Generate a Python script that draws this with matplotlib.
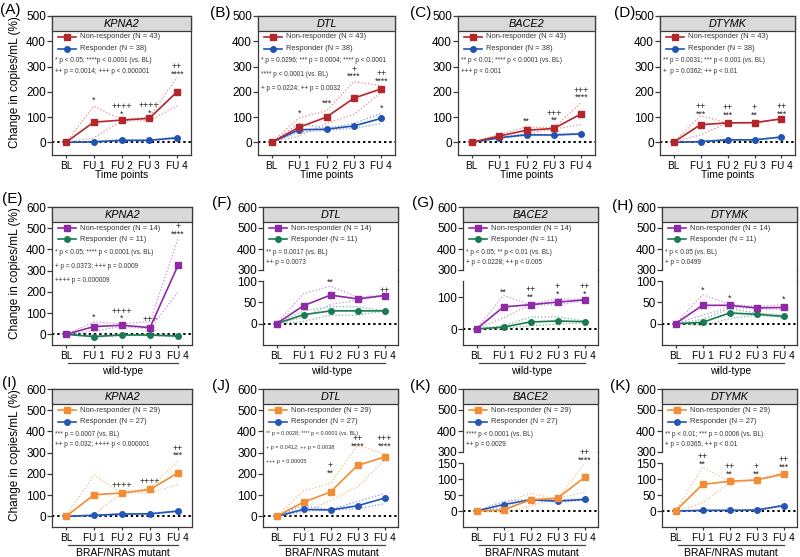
import matplotlib.pyplot as plt
from matplotlib.lines import Line2D
from matplotlib.patches import Rectangle

plt.rcParams['font.family'] = ['Liberation Sans', 'DejaVu Sans']

W, H = 800, 557
fig = plt.figure(figsize=(W / 100, H / 100), dpi=100)

timepoints = ['BL', 'FU 1', 'FU 2', 'FU 3', 'FU 4']
genes = ['KPNA2', 'DTL', 'BACE2', 'DTYMK']
x = list(range(len(timepoints)))

# ---- row 1: all patients (A-D) ----
nonresp_mean_r1 = [[0, 80, 88, 95, 200], [0, 60, 100, 175, 212], [0, 25, 48, 55, 113], [0, 70, 77, 78, 93]]
nonresp_hi_r1 = [[0, 143, 90, 100, 258], [0, 97, 125, 240, 225], [0, 30, 62, 57, 158], [0, 105, 77, 78, 93]]
nonresp_lo_r1 = [[0, 18, 85, 85, 145], [0, 25, 75, 110, 198], [0, 20, 35, 53, 70], [0, 30, 77, 78, 93]]
resp_mean_r1 = [[0, 2, 8, 8, 18], [0, 50, 52, 65, 95], [0, 18, 30, 29, 34], [0, 3, 10, 10, 21]]
resp_hi_r1 = [[0, 4, 10, 10, 21], [0, 75, 55, 75, 115], [0, 20, 32, 31, 36], [0, 4, 11, 11, 22]]
resp_lo_r1 = [[0, 1, 6, 6, 15], [0, 40, 48, 55, 75], [0, 16, 28, 27, 32], [0, 2, 9, 9, 20]]

# ---- row 2: wild-type (E-H) ----
nonresp_mean_r2 = [[0, 37, 43, 32, 325], [0, 42, 67, 58, 66], [0, 69, 76, 84, 91], [0, 43, 43, 37, 38]]
nonresp_hi_r2 = [[0, 58, 50, 60, 450], [0, 70, 88, 62, 66], [0, 105, 76, 95, 92], [0, 68, 45, 40, 45]]
nonresp_lo_r2 = [[0, 15, 38, 25, 200], [0, 15, 45, 55, 66], [0, 35, 76, 75, 90], [0, 20, 38, 35, 33]]
resp_mean_r2 = [[0, -10, -3, -3, -8], [0, 21, 30, 30, 30], [0, 6, 22, 25, 23], [0, 3, 25, 22, 17]]
resp_hi_r2 = [[0, -7, -1, -1, -5], [0, 30, 40, 40, 30], [0, 10, 37, 38, 25], [0, 10, 35, 25, 20]]
resp_lo_r2 = [[0, -13, -5, -5, -11], [0, 5, 20, 20, 30], [0, 2, 10, 15, 20], [0, -5, 12, 20, 15]]

# ---- row 3: BRAF/NRAS mutant (I-K) ----
nonresp_mean_r3 = [[0, 102, 110, 127, 205], [0, 67, 115, 240, 280], [0, 3, 35, 40, 105], [0, 83, 93, 97, 116]]
nonresp_hi_r3 = [[0, 195, 108, 135, 260], [0, 120, 155, 335, 295], [0, 25, 55, 38, 148], [0, 137, 93, 97, 120]]
nonresp_lo_r3 = [[0, 10, 110, 110, 150], [0, 15, 75, 140, 265], [0, -5, 15, 40, 58], [0, 25, 87, 97, 110]]
resp_mean_r3 = [[0, 5, 11, 12, 25], [0, 33, 30, 50, 86], [0, 20, 35, 31, 36], [0, 2, 2, 3, 17]]
resp_hi_r3 = [[0, 7, 13, 14, 28], [0, 50, 32, 70, 108], [0, 30, 37, 35, 38], [0, 3, 3, 4, 19]]
resp_lo_r3 = [[0, 3, 9, 10, 22], [0, 25, 30, 35, 60], [0, 10, 33, 28, 34], [0, 1, 1, 2, 15]]

letters = [['(A)', '(B)', '(C)', '(D)'], ['(E)', '(F)', '(G)', '(H)'], ['(I)', '(J)', '(K)', '(K)']]
n_labels = [(43, 38), (14, 11), (29, 27)]

notes = [
    [["* p < 0.05; ****p < 0.0001 (vs. BL)", "++ p = 0.0014; +++ p < 0.000001"],
     ["* p = 0.0296; *** p = 0.0004; **** p < 0.0001", "**** p < 0.0001 (vs. BL)", "+ p = 0.0224; ++ p = 0.0032"],
     ["** p < 0.01; **** p < 0.0001 (vs. BL)", "+++ p < 0.001"],
     ["** p = 0.0031; *** p < 0.001 (vs. BL)", "+  p = 0.0362; ++ p < 0.01"]],
    [["* p < 0.05; **** p < 0.0001 (vs. BL)", "+ p = 0.0373; +++ p = 0.0009", "++++ p = 0.000009"],
     ["** p = 0.0017 (vs. BL)", "++ p = 0.0073"],
     ["* p < 0.05; ** p < 0.01 (vs. BL)", "+ p = 0.0228; ++ p < 0.005"],
     ["* p < 0.05 (vs. BL)", "+ p = 0.0499"]],
    [["*** p = 0.0007 (vs. BL)", "++ p = 0.032; ++++ p < 0.000001"],
     ["** p = 0.0028; **** p < 0.0001 (vs. BL)", "+ p = 0.0412; ++ p = 0.0038", "+++ p = 0.00005"],
     ["**** p < 0.0001 (vs. BL)", "++ p = 0.0029"],
     ["** p < 0.01; *** p = 0.0006 (vs. BL)", "+ p = 0.0365, ++ p < 0.01"]],
]
note_size = [[4.7, 4.7, 4.7, 4.7], [4.7, 4.7, 4.7, 4.7], [4.7, 4.0, 4.7, 4.7]]

# significance marks: (time point index, y value at middle of the block, text)
marks = [
    [[(1, 168, '*'), (2, 128, '++++\n*'), (3, 129, '++++\n*'), (4, 284, '++\n****')],
     [(1, 115, '*'), (2, 155, '***'), (3, 275, '+\n****'), (4, 258, '++\n****'), (4, 135, '*')],
     [(2, 82, '**'), (3, 101, '+++\n**'), (4, 192, '+++\n****')],
     [(1, 128, '++\n***'), (2, 122, '++\n***'), (3, 122, '+\n**'), (4, 128, '++\n***')]],
    [[(1, 81, '*'), (2, 92, '++++\n*'), (3, 68, '+++'), (4, 490, '+\n****')],
     [(2, 98, '**'), (4, 78, '++')],
     [(1, 116, '**'), (2, 111, '++\n**'), (3, 121, '+\n*'), (4, 121, '++\n*')],
     [(1, 78, '*'), (2, 60, '*'), (4, 58, '*')]],
    [[(2, 147, '++++'), (3, 163, '++++'), (4, 304, '++\n***')],
     [(2, 222, '+\n**'), (3, 348, '++\n****'), (4, 350, '+++\n****')],
     [(4, 170, '++\n****')],
     [(1, 158, '++\n**'), (2, 127, '++\n**'), (3, 127, '+\n**'), (4, 149, '++\n***')]],
]

row_data = [
    (nonresp_mean_r1, nonresp_hi_r1, nonresp_lo_r1, resp_mean_r1, resp_hi_r1, resp_lo_r1),
    (nonresp_mean_r2, nonresp_hi_r2, nonresp_lo_r2, resp_mean_r2, resp_hi_r2, resp_lo_r2),
    (nonresp_mean_r3, nonresp_hi_r3, nonresp_lo_r3, resp_mean_r3, resp_hi_r3, resp_lo_r3),
]

# colours: (non-resp, non-resp band, resp, resp band)
row_colors = [
    ('#b3262a', '#e98a8c', '#2153b3', '#7c9de0'),
    ('#8e2aa6', '#c98ddc', '#1a7a52', '#6dbb96'),
    ('#f28d35', '#f7bb85', '#2456b4', '#7c9de0'),
]

# panel boxes in pixels (left, top, right, bottom)
boxes = [
    [(52, 16, 191, 155), (258, 16, 395, 155), (458, 16, 595, 155), (660, 16, 795, 155)],
    [(52, 207, 192, 345), (263, 207, 398, 345), (463, 207, 598, 345), (662, 207, 797, 345)],
    [(52, 389, 192, 527), (263, 389, 398, 527), (463, 389, 598, 527), (662, 389, 797, 527)],
]
letter_pos = [
    [(0, 10), (210, 13), (410, 13), (614, 13)],
    [(2, 199), (212, 203), (412, 203), (612, 206)],
    [(2, 383), (212, 386), (410, 386), (610, 386)],
]
ymax_row = [500, 600, 600]
# broken axes: (top of lower part, lower ticks) or None
broken = [
    [None, None, None, None],
    [None, (100, [0, 50, 100]), (150, [0, 100]), (100, [0, 50, 100])],
    [None, None, (150, [0, 50, 100, 150]), (150, [0, 50, 100, 150])],
]
row_xlabels = ['Time points', 'wild-type', 'BRAF/NRAS mutant']

frame_c = '#3a3a3a'


def px_ax(l, t, r, b):
    return fig.add_axes([l / W, 1 - b / H, (r - l) / W, (b - t) / H])


def style_ax(ax):
    for s in ax.spines.values():
        s.set_color(frame_c)
        s.set_linewidth(0.9)
    ax.set_facecolor('none')
    ax.set_xlim(-0.5, 4.5)
    ax.set_xticks(x)
    ax.tick_params(axis='y', length=3.5, width=0.9, pad=0.8, labelsize=8.5, color=frame_c)
    ax.tick_params(axis='x', length=2.5, width=0.9, pad=1.5, labelsize=7.2, color=frame_c)


def ftxt(px, py, s, **kw):
    fig.text(px / W, 1 - py / H, s, **kw)


for ri in range(3):
    nm_all, nh_all, nl_all, rm_all, rh_all, rl_all = row_data[ri]
    c_n, c_nb, c_r, c_rb = row_colors[ri]
    for ci in range(4):
        l, t, r, b = boxes[ri][ci]
        brk = broken[ri][ci]
        if brk is None:
            ax = px_ax(l, t, r, b)
            style_ax(ax)
            ax.set_ylim(-50, ymax_row[ri])
            ax.set_yticks(range(0, ymax_row[ri] + 1, 100))
            axes = [ax]
            low = ax
        else:
            up = px_ax(l, t, r, t + 63)
            low = px_ax(l, b - 64, r, b)
            style_ax(up)
            style_ax(low)
            up.set_ylim(300, 600)
            up.set_yticks([300, 400, 500, 600])
            up.spines['bottom'].set_visible(False)
            up.tick_params(axis='x', bottom=False, labelbottom=False)
            low.set_ylim(-50, brk[0])
            low.set_yticks(brk[1])
            low.spines['top'].set_visible(False)
            axes = [up, low]
            fig.add_artist(Line2D([r / W, r / W], [1 - (t + 63) / H, 1 - (b - 64) / H],
                                  color=frame_c, lw=0.9))
        low.set_xticklabels(timepoints)
        low.axhline(0, color='black', lw=1.4, ls=(0, (1.2, 1.5)), zorder=1)

        for a in axes:
            a.plot(x, nh_all[ci], ls=':', color=c_nb, lw=0.9, zorder=2)
            a.plot(x, nl_all[ci], ls=':', color=c_nb, lw=0.9, zorder=2)
            a.plot(x, rh_all[ci], ls=':', color=c_rb, lw=0.9, zorder=2)
            a.plot(x, rl_all[ci], ls=':', color=c_rb, lw=0.9, zorder=2)
            a.plot(x, rm_all[ci], color=c_r, marker='o', ms=4, lw=1.2, zorder=3)
            a.plot(x, nm_all[ci], color=c_n, marker='s', ms=4.3, lw=1.2, zorder=4)

        for xi, yv, s in marks[ri][ci]:
            low.text(xi, yv, s, ha='center', va='center', fontsize=6.3, color='#222222',
                     linespacing=0.8, multialignment='center', clip_on=False)

        # header strip with gene name
        fig.add_artist(Rectangle((l / W, 1 - (t + 15) / H), (r - l) / W, 15 / H,
                                 transform=fig.transFigure, fc='#d9d9d9', ec=frame_c, lw=0.9))
        ftxt((l + r) / 2, t + 8, genes[ci], ha='center', va='center', fontsize=7.8, style='italic')

        # legend
        n_n, n_r = n_labels[ri]
        for k, (lab, col, mk) in enumerate([(f'Non-responder (N = {n_n})', c_n, 's'),
                                            (f'Responder (N = {n_r})', c_r, 'o')]):
            yy = 1 - (t + 21 + 11.5 * k) / H
            fig.add_artist(Line2D([(l + 6) / W, (l + 15) / W, (l + 24) / W], [yy, yy, yy],
                                  color=col, lw=1.2, marker=mk, ms=4, markevery=[1]))
            ftxt(l + 28, t + 21 + 11.5 * k, lab, ha='left', va='center', fontsize=5.4, color='#333333')

        # p-value notes
        nts = notes[ri][ci]
        step = 14 if len(nts) == 3 else 10.7
        for k, s in enumerate(nts):
            ftxt(l + 3, t + 45 + step * k, s, ha='left', va='center',
                 fontsize=note_size[ri][ci], color='#333333')

        # panel letter
        lx, ly = letter_pos[ri][ci]
        ftxt(lx, ly, letters[ri][ci], ha='left', va='center', fontsize=11)

        # x label
        pw = r - l
        if ri == 0:
            ftxt((l + r) / 2, b + 20, row_xlabels[ri], ha='center', va='center', fontsize=7.5)
        else:
            x0 = l + pw * 0.1 + 2
            x1 = l + pw * 0.9
            ly_ = b + 18
            fig.add_artist(Line2D([x0 / W, x1 / W], [1 - ly_ / H, 1 - ly_ / H], color='#444444', lw=0.9))
            ftxt((x0 + x1) / 2, ly_ + 8, row_xlabels[ri], ha='center', va='center', fontsize=7.5)

    # y label
    l, t, r, b = boxes[ri][0]
    ftxt(15, (t + b) / 2 - 3, 'Change in copies/mL (%)', rotation=90, ha='center', va='center', fontsize=8.5)

fig.savefig('out.png', dpi=100)
